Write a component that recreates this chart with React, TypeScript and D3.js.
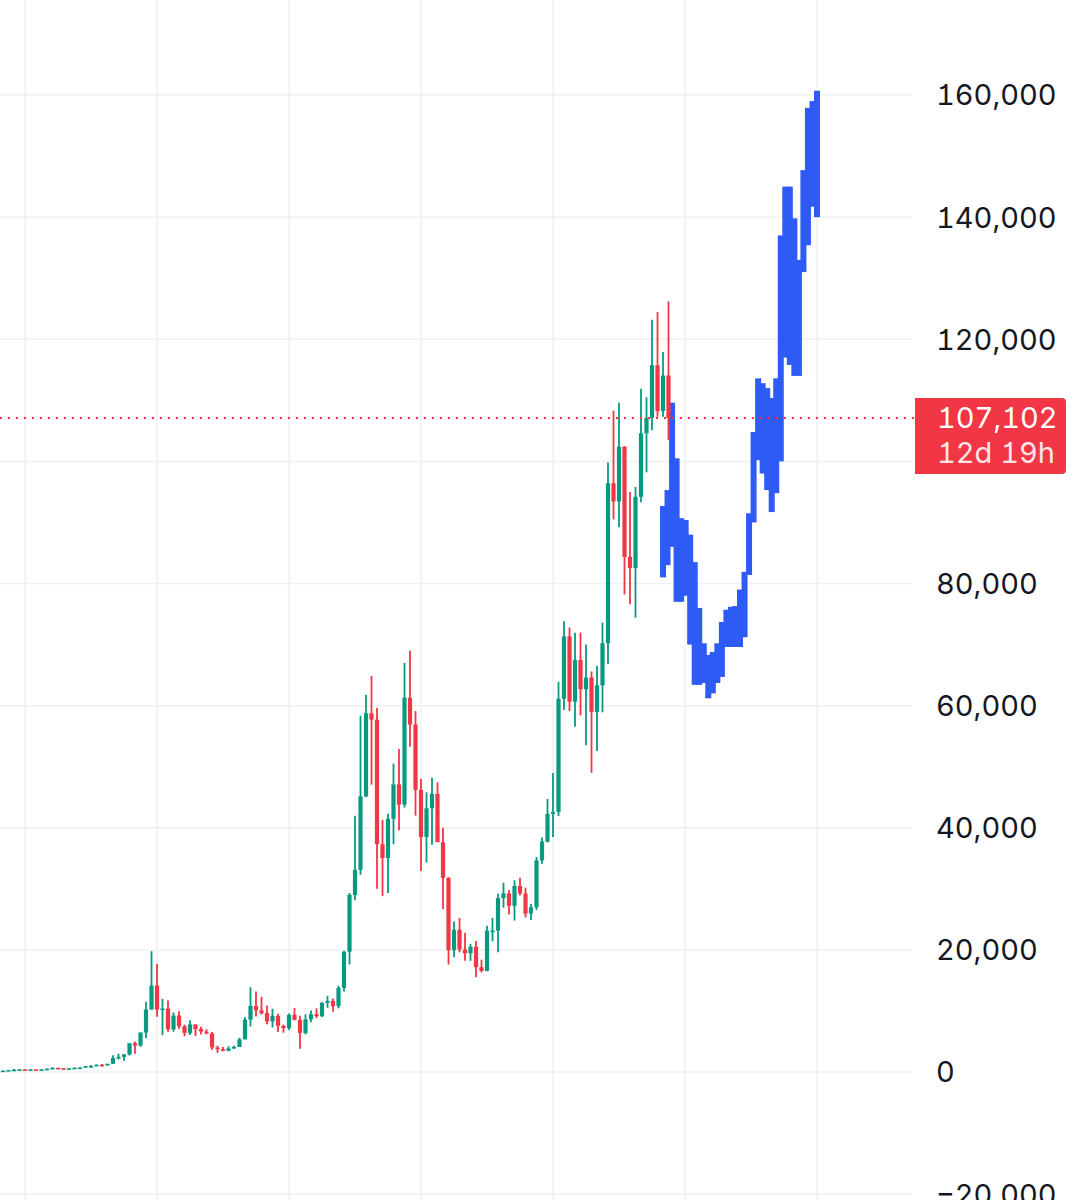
import React from "react";
import * as d3 from "d3";

// ---- Data: monthly BTC candles (USD) ----
const months = [
  "2015-08","2015-09","2015-10","2015-11","2015-12",
  "2016-01","2016-02","2016-03","2016-04","2016-05","2016-06","2016-07","2016-08","2016-09","2016-10","2016-11","2016-12",
  "2017-01","2017-02","2017-03","2017-04","2017-05","2017-06","2017-07","2017-08","2017-09","2017-10","2017-11","2017-12",
  "2018-01","2018-02","2018-03","2018-04","2018-05","2018-06","2018-07","2018-08","2018-09","2018-10","2018-11","2018-12",
  "2019-01","2019-02","2019-03","2019-04","2019-05","2019-06","2019-07","2019-08","2019-09","2019-10","2019-11","2019-12",
  "2020-01","2020-02","2020-03","2020-04","2020-05","2020-06","2020-07","2020-08","2020-09","2020-10","2020-11","2020-12",
  "2021-01","2021-02","2021-03","2021-04","2021-05","2021-06","2021-07","2021-08","2021-09","2021-10","2021-11","2021-12",
  "2022-01","2022-02","2022-03","2022-04","2022-05","2022-06","2022-07","2022-08","2022-09","2022-10","2022-11","2022-12",
  "2023-01","2023-02","2023-03","2023-04","2023-05","2023-06","2023-07","2023-08","2023-09","2023-10","2023-11","2023-12",
  "2024-01","2024-02","2024-03","2024-04","2024-05","2024-06","2024-07","2024-08","2024-09","2024-10","2024-11","2024-12",
  "2025-01","2025-02","2025-03","2025-04","2025-05","2025-06","2025-07","2025-08","2025-09","2025-10",
];
const opens = [
  284,230,236,314,378,
  430,369,437,416,448,531,673,624,575,609,698,742,
  964,970,1190,1072,1348,2286,2480,2875,4703,4338,6468,10233,
  14156,10221,10397,6973,9240,7494,6404,7780,7037,6625,6318,4017,
  3742,3457,3854,4105,5350,8574,10817,10085,9630,8293,9199,7569,
  7193,9350,8543,6410,8620,9454,9135,11335,11650,10780,13780,19700,
  28990,33110,45140,58740,57700,37300,35040,41460,47100,43790,61300,56900,
  46200,38480,43190,45540,37640,31800,19940,23300,20050,19430,20500,17170,
  16550,23130,23150,28480,29250,27220,30470,29230,25940,26970,34650,37720,
  42270,42580,61130,71330,60640,67490,62680,64620,58970,63330,70220,96410,
  93430,102400,84350,82550,94200,104600,107130,115750,108250,114050,
];
const highs = [
  285,245,334,495,466,
  462,448,439,468,555,778,705,627,620,742,760,975,
  1150,1212,1290,1350,2760,3000,2951,4736,4975,6470,11500,19783,
  17712,11958,11711,9759,9964,7754,8474,7780,7410,7000,6547,4309,
  4110,4211,4296,5600,9000,13880,13200,12300,10900,10370,9520,7750,
  9580,10500,9200,9460,10070,10430,11440,12470,12050,14100,19860,29300,
  41950,58350,61780,64850,59600,41300,42300,50500,52900,67000,69000,59100,
  47990,45800,48190,47450,40000,31900,24650,25200,22800,21000,21450,18400,
  23950,25250,29200,31000,29800,31400,31800,30200,27500,35200,38400,44700,
  48970,63900,73800,72800,71950,71960,70000,65600,66500,73600,99800,108300,
  109600,102500,95000,95800,111900,110500,123200,124450,117900,126200,
];
const lows = [
  199,225,236,298,351,
  352,364,394,413,436,528,607,466,568,604,681,741,
  778,936,887,1060,1348,2076,1843,2692,2980,4138,5507,10233,
  9035,6048,6600,6575,7090,5826,6070,5880,6133,6178,3652,3128,
  3400,3400,3800,4100,5330,7460,9070,9400,7800,7300,6540,6435,
  6870,8450,3800,6150,8130,8830,8990,10520,9880,10420,13200,17600,
  28130,32300,45000,47050,30000,28800,29300,37300,39600,43300,53250,42000,
  32900,34300,37200,37700,26700,17600,18800,19600,18200,18200,15500,16300,
  16500,21400,19600,26900,25800,24800,28900,25300,24900,26540,34100,37600,
  38500,41900,59300,59100,56550,58400,53500,49000,52550,58900,66800,90500,
  89200,78200,76600,74400,93300,98200,105100,107300,107300,103500,
];
const closes = [
  230,236,314,378,430,
  369,437,416,448,531,673,624,575,609,698,742,964,
  970,1190,1072,1348,2286,2480,2875,4703,4338,6468,10233,14156,
  10221,10397,6973,9240,7494,6404,7780,7037,6625,6318,4017,3742,
  3457,3854,4105,5350,8574,10817,10085,9630,8293,9199,7569,7193,
  9350,8543,6410,8620,9454,9135,11335,11650,10780,13780,19700,28990,
  33110,45140,58740,57700,37300,35040,41460,47100,43790,61300,56900,46200,
  38480,43190,45540,37640,31800,19940,23300,20050,19430,20500,17170,16550,
  23130,23150,28480,29250,27220,30470,29230,25940,26970,34650,37720,42270,
  42580,61130,71330,60640,67490,62680,64620,58970,63330,70220,96410,93430,
  102400,84350,82550,94200,104600,107130,115750,108250,114050,107102,
];

// ---- Projected bars pattern (blue), high / low per bar ----
const projectionStart = "2025-09";
const projectionEnd = "2028-01";
const projHighs = [
  92700,95300,109600,100500,90700,90400,88000,83500,76000,70200,68300,68800,
  70200,73700,75700,76200,76300,79000,81900,91500,104800,113600,112800,112000,
  110400,113600,137000,145000,145000,139800,133000,147700,157900,159000,160700,
];
const projLows = [
  81000,83000,86000,77000,77000,78000,70000,63400,63400,63700,61200,62000,
  63700,64700,69600,69600,69600,69600,71200,81400,90000,100200,98000,95300,
  91700,94800,100000,117000,115800,114000,114000,131000,135400,141700,140000,
];

// ---- Axis ----
const yTicks = [160000, 140000, 120000, 100000, 80000, 60000, 40000, 20000, 0, -20000];
const gridMonths = ["2016-01","2018-01","2020-01","2022-01","2024-01","2026-01","2028-01"];
const lastPrice = 107102;
const countdown = "12d 19h";

const W = 1079;
const H = 1200;
const GREEN = "#089981";
const RED = "#F23645";
const BLUE = "#2E5BF5";
const GRID = "#EEF0F3";
const TEXT = "#131722";
const FONT = "Inter, 'Noto Sans', sans-serif";

const mIdx = (s: string) => {
  const [yy, mm] = s.split("-").map(Number);
  return yy * 12 + (mm - 1);
};

export default function App() {
  const x = d3.scaleLinear().domain([mIdx("2018-01"), mIdx("2026-01")]).range([157, 685]);
  const y = d3.scaleLinear().domain([0, 160000]).range([1072, 95]);
  const plotRight = 912;

  const candles = months.map((m, i) => ({
    x: x(mIdx(m)),
    o: opens[i], h: highs[i], l: lows[i], c: closes[i],
  }));

  const pIdx = d3.scaleLinear()
    .domain([0, projHighs.length - 1])
    .range([x(mIdx(projectionStart)), x(mIdx(projectionEnd))]);

  const fmt = d3.format(",");
  const py = y(lastPrice);
  const textStyle = { fontFeatureSettings: "'tnum' 1, 'cv01' 1" } as React.CSSProperties;

  return (
    <svg width={W} height={H} style={{ position: "absolute", left: 0, top: 0, background: "#fff" }}
      fontFamily={FONT}>
      <rect x={0} y={0} width={W} height={H} fill="#fff" />
      {/* vertical grid */}
      {gridMonths.map((g) => (
        <line key={g} x1={x(mIdx(g))} x2={x(mIdx(g))} y1={0} y2={H} stroke={GRID} strokeWidth={1.5} />
      ))}
      {/* horizontal grid */}
      {yTicks.map((t) => (
        <line key={t} x1={0} x2={plotRight} y1={y(t)} y2={y(t)} stroke={GRID} strokeWidth={1.5} />
      ))}
      {/* projection bars */}
      <g>
        {projHighs.map((h, i) => (
          <rect key={i} x={pIdx(i) - 3} width={6} y={y(h)} height={y(projLows[i]) - y(h)} fill={BLUE} />
        ))}
      </g>
      {/* candles */}
      <g>
        {candles.map((d, i) => {
          const up = d.c >= d.o;
          const col = up ? GREEN : RED;
          const top = y(Math.max(d.o, d.c));
          const bot = y(Math.min(d.o, d.c));
          return (
            <g key={i}>
              <line x1={d.x} x2={d.x} y1={y(d.h)} y2={y(d.l)} stroke={col} strokeWidth={1.8} />
              <rect x={d.x - 2.1} width={4.2} y={top} height={Math.max(1.6, bot - top)} fill={col} />
            </g>
          );
        })}
      </g>
      {/* last price line */}
      <line x1={0} x2={915} y1={py} y2={py} stroke={RED} strokeWidth={2} strokeDasharray="2 6" />
      {/* y labels */}
      {yTicks.filter((t) => t !== 100000).map((t) => (
        <text key={t} x={936} y={y(t)} dy="0.36em" fontSize={29} fill={TEXT} style={textStyle}>{fmt(t)}</text>
      ))}
      {/* price label */}
      <path
        d={`M915,398 H1062 a4,4 0 0 1 4,4 V470 a4,4 0 0 1 -4,4 H915 Z`}
        fill={RED}
      />
      <text x={937} y={py} dy="0.36em" fontSize={29} fill="#fff" style={textStyle}>{fmt(lastPrice)}</text>
      <text x={937} y={py + 35} dy="0.36em" fontSize={29} fill="#fff" fillOpacity={0.9} style={textStyle}>{countdown}</text>
    </svg>
  );
}
